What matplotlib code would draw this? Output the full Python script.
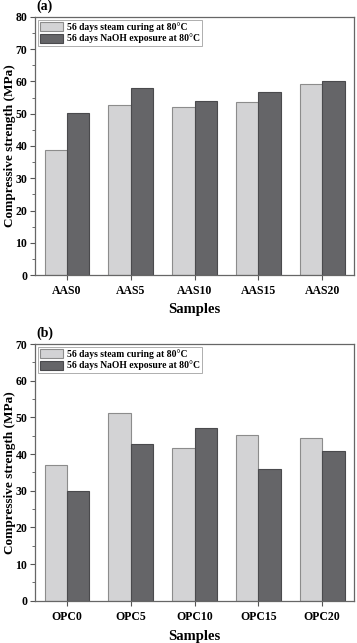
import numpy as np
import matplotlib.pyplot as plt

plt.rcParams['font.family'] = ['Liberation Serif', 'DejaVu Serif']
plt.rcParams['font.weight'] = 'bold'

aas_labels = ['AAS0', 'AAS5', 'AAS10', 'AAS15', 'AAS20']
aas_steam = [38.9, 52.7, 52.2, 53.6, 59.1]
aas_naoh = [50.3, 58.1, 53.9, 56.6, 60.2]

opc_labels = ['OPC0', 'OPC5', 'OPC10', 'OPC15', 'OPC20']
opc_steam = [37.0, 51.3, 41.6, 45.1, 44.3]
opc_naoh = [30.0, 42.7, 47.1, 36.0, 40.9]

series_names = ['56 days steam curing at 80\u00b0C', '56 days NaOH exposure at 80\u00b0C']
light = '#d3d3d5'
dark = '#656568'
edge = '#8c8c8c'
width = 0.35

fig = plt.figure(figsize=(3.57, 6.43), dpi=100)
ax1 = fig.add_axes([0.098, 0.5723, 0.894, 0.4013])
ax2 = fig.add_axes([0.098, 0.0658, 0.894, 0.3992])


def panel(ax, labels, steam, naoh, ymax, tag, xlab_y):
    ind = np.arange(len(labels))
    ax.bar(ind - width / 2, steam, width, color=light, edgecolor=edge, linewidth=0.8,
           label=series_names[0])
    ax.bar(ind + width / 2, naoh, width, color=dark, edgecolor='#4a4a4d', linewidth=0.8,
           label=series_names[1])
    ax.set_xlim(-0.5, len(labels) - 0.5)
    ax.set_ylim(0, ymax)
    ax.set_yticks(np.arange(0, ymax + 1, 10))
    ax.set_yticks(np.arange(0, ymax + 1, 5), minor=True)
    ax.set_xticks(ind)
    ax.set_xticklabels(labels)
    ax.tick_params(axis='both', labelsize=8.5, direction='out', color='#555555', length=3.5)
    ax.tick_params(axis='y', which='minor', length=2, color='#555555')
    ax.tick_params(axis='x', pad=4)
    ax.tick_params(axis='y', pad=2)
    for s in ax.spines.values():
        s.set_color('#666666')
        s.set_linewidth(0.9)
    ax.set_ylabel('Compressive strength (MPa)', fontsize=9.5, fontweight='bold')
    ax.yaxis.set_label_coords(-0.058, 0.5)
    ax.set_xlabel('Samples', fontsize=10.5, fontweight='bold')
    ax.xaxis.set_label_coords(0.5, xlab_y)
    leg = ax.legend(loc='upper left', fontsize=6.9, frameon=True, fancybox=False,
                    edgecolor='#999999', borderaxespad=0.3, handlelength=2.4,
                    handleheight=1.1, borderpad=0.25, labelspacing=0.15, handletextpad=0.4)
    leg.get_frame().set_linewidth(0.7)
    ax.text(0.005, 1.015, tag, transform=ax.transAxes, fontsize=10, fontweight='bold',
            ha='left', va='bottom')


panel(ax1, aas_labels, aas_steam, aas_naoh, 80, '(a)', -0.108)
panel(ax2, opc_labels, opc_steam, opc_naoh, 70, '(b)', -0.114)

fig.savefig('out.png', dpi=100)
